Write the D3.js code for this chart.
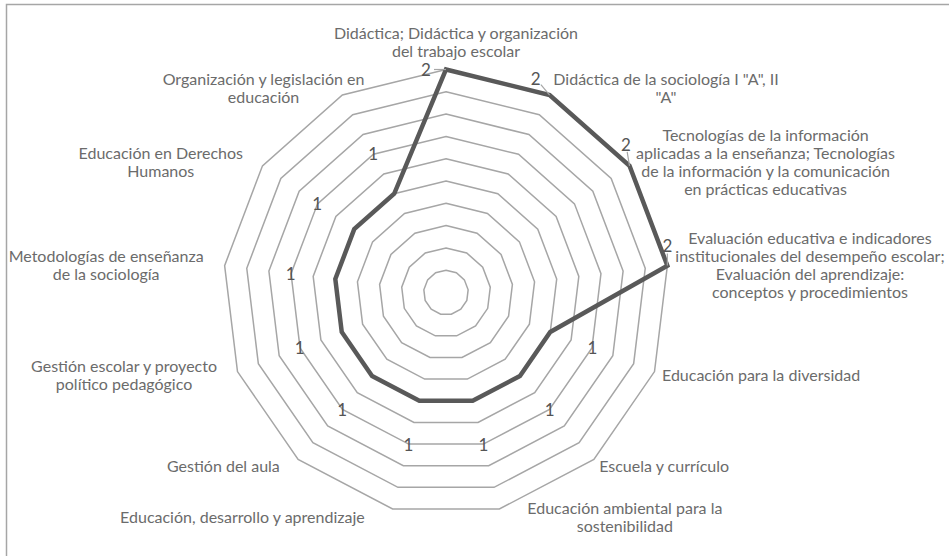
<!DOCTYPE html>
<html>
<head>
<meta charset="utf-8">
<script src="https://cdn.jsdelivr.net/npm/d3@7"></script>
<style>
  body { margin: 0; background: #fff; }
  svg text { font-family: Lato, "Open Sans", sans-serif; fill: #6b6b6b; }
</style>
</head>
<body>
<div id="container"></div>
<script>
const width = 949;
const height = 556;

// categories, clockwise from the top (line breaks as in the original)
const categories = [
	"Didáctica; Didáctica y organización\ndel trabajo escolar",
	"Didáctica de la sociología I \"A\", II\n\"A\"",
	"Tecnologías de la información\naplicadas a la enseñanza; Tecnologías\nde la información y la comunicación\nen prácticas educativas",
	"Evaluación educativa e indicadores\ninstitucionales del desempeño escolar;\nEvaluación del aprendizaje:\nconceptos y procedimientos",
	"Educación para la diversidad",
	"Escuela y currículo",
	"Educación ambiental para la\nsostenibilidad",
	"Educación, desarrollo y aprendizaje",
	"Gestión del aula",
	"Gestión escolar y proyecto\npolítico pedagógico",
	"Metodologías de enseñanza\nde la sociología",
	"Educación en Derechos\nHumanos",
	"Organización y legislación en\neducación"
];
const values = [2, 2, 2, 2, 1, 1, 1, 1, 1, 1, 1, 1, 1];
const gridLevels = [0.2, 0.4, 0.6, 0.8, 1, 1.2, 1.4, 1.6, 1.8, 2];

const cx = 446, cy = 292.5;
const R = 223;
const n = categories.length;

const r = d3.scaleLinear().domain([0, 2]).range([0, R]);
const angle = d3.scaleLinear().domain([0, n]).range([0, 2 * Math.PI]);

// point on axis i at radius rad (angle measured clockwise from top)
function pt(i, rad) {
	const a = angle(i);
	return [cx + Math.sin(a) * rad, cy - Math.cos(a) * rad];
}

const svg = d3.select("#container")
	.append("svg")
	.attr("width", width)
	.attr("height", height);

// chart frame (right and bottom edges fall outside the picture)
svg.append("rect")
	.attr("x", 6.5).attr("y", 4.5)
	.attr("width", 1000).attr("height", 700)
	.attr("fill", "none")
	.attr("stroke", "#a6a6a6")
	.attr("stroke-width", 1.5);

// grid rings
const ring = d3.line();
svg.append("g")
	.selectAll("path")
	.data(gridLevels)
	.enter()
	.append("path")
	.attr("d", lv => ring(d3.range(n).map(i => pt(i, r(lv)))) + "Z")
	.attr("fill", "none")
	.attr("stroke", "#a6a6a6")
	.attr("stroke-width", 1.5);

// series line
svg.append("path")
	.attr("d", ring(values.map((v, i) => pt(i, r(v)))) + "Z")
	.attr("fill", "none")
	.attr("stroke", "#595959")
	.attr("stroke-width", 4.5)
	.attr("stroke-linejoin", "miter");

// data labels
const maxV = d3.max(values);
const dl = svg.append("g");
values.forEach((v, i) => {
	const a = angle(i);
	const ux = Math.sin(a), uy = -Math.cos(a);
	const q = pt(i, r(v));
	let p;
	if (v === maxV) {
		// beside the point, counter-clockwise, with a leader line
		const rad = 10 * Math.abs(Math.sin(2 * a));
		p = [q[0] - Math.cos(a) * 20 + ux * rad, q[1] - Math.sin(a) * 20 + uy * rad];
		const dx = p[0] - q[0], dy = p[1] - q[1];
		const len = Math.sqrt(dx * dx + dy * dy);
		const k = Math.max(0, (len - 8) / len);
		dl.append("line")
			.attr("x1", q[0]).attr("y1", q[1])
			.attr("x2", q[0] + dx * k).attr("y2", q[1] + dy * k)
			.attr("stroke", "#a6a6a6")
			.attr("stroke-width", 1.2);
	} else {
		p = pt(i, r(v) + 45);
	}
	dl.append("text")
		.attr("x", p[0])
		.attr("y", p[1])
		.attr("text-anchor", "middle")
		.attr("dominant-baseline", "central")
		.style("font-size", "17px")
		.style("fill", "#555")
		.text(v);
});

// category labels
const lineH = 18;
const lab = svg.append("g");
categories.forEach((c, i) => {
	const lines = c.split("\n");
	const a = angle(i);
	const ux = Math.sin(a), uy = -Math.cos(a);
	const v = pt(i, R);
	const t = lab.append("text").style("font-size", "16px");
	const spans = lines.map(s => t.append("tspan").text(s));
	const w = d3.max(spans, s => s.node().getComputedTextLength());
	const h = lines.length * lineH;
	let bx, by; // block centre
	if (Math.abs(ux) < 0.1) {
		bx = v[0] + 10;
		by = uy < 0 ? v[1] - 10 - h / 2 : v[1] + 10 + h / 2;
	} else {
		let ax;
		if (ux < 0 && uy < -0.8) {
			ax = v[0] + 22;
		} else {
			const extra = uy > 0.9 ? 26 : (ux < 0 ? 13 : 0);
			ax = v[0] + ux * 8 + Math.sign(ux) * extra;
		}
		bx = ux > 0 ? ax + w / 2 : ax - w / 2;
		by = v[1] + uy * 8;
	}
	spans.forEach((s, j) => {
		s.attr("x", bx)
			.attr("y", by - h / 2 + lineH * (j + 0.5))
			.attr("text-anchor", "middle")
			.attr("dominant-baseline", "central");
	});
});
</script>
</body>
</html>
